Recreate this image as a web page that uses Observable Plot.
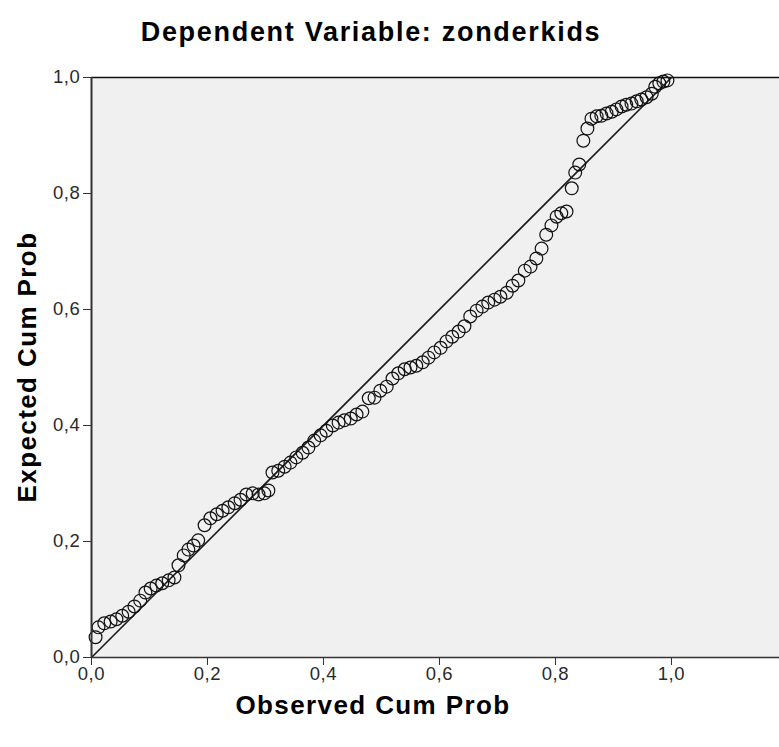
<!DOCTYPE html>
<html>
<head>
<meta charset="utf-8">
<script src="https://cdn.jsdelivr.net/npm/d3@7"></script>
<script src="https://cdn.jsdelivr.net/npm/@observablehq/plot@0.6"></script>
<style>
  html, body { margin: 0; padding: 0; background: #ffffff; }
  #wrap { position: relative; width: 779px; height: 747px; font-family: "Liberation Sans", Arial, sans-serif; }
  #title { position: absolute; left: 0; top: 0; width: 742px; height: 60px; line-height: 64px; text-align: center; font-weight: bold; font-size: 27px; letter-spacing: 1.7px; color: #000; }
  #chart { position: absolute; left: 0; top: 60px; }
  .axlab { position: absolute; font-weight: bold; font-size: 26px; letter-spacing: 1.4px; color: #000; white-space: nowrap; line-height: 30px; }
  #xlab { left: 0; width: 746px; top: 690px; text-align: center; }
  #ylab { left: 27px; top: 367px; transform: translate(-50%, -50%) rotate(-90deg); }
  svg g[aria-label="x-axis tick label"] text, svg g[aria-label="y-axis tick label"] text { letter-spacing: 0.6px; }
</style>
</head>
<body>
<div id="wrap">
  <div id="title"></div>
  <div id="chart"></div>
  <div id="xlab" class="axlab"></div>
  <div id="ylab" class="axlab"></div>
</div>
<script>
const titleText = "Dependent Variable: zonderkids";
const xLabel = "Observed Cum Prob";
const yLabel = "Expected Cum Prob";
const tickValues = [0, 0.2, 0.4, 0.6, 0.8, 1.0];
const refLine = [0, 1];

const observed = [
  0.007, 0.012, 0.022, 0.033, 0.043, 0.053, 0.064, 0.074, 0.084, 0.093,
  0.102, 0.112, 0.122, 0.133, 0.143, 0.150, 0.159, 0.167, 0.176, 0.184,
  0.195, 0.205, 0.216, 0.226, 0.236, 0.247, 0.257, 0.267, 0.278, 0.288,
  0.298, 0.305, 0.312, 0.322, 0.333, 0.343, 0.353, 0.364, 0.374, 0.384,
  0.395, 0.405, 0.416, 0.426, 0.436, 0.447, 0.457, 0.467, 0.478, 0.488,
  0.498, 0.509, 0.519, 0.529, 0.540, 0.550, 0.560, 0.571, 0.581, 0.591,
  0.602, 0.612, 0.622, 0.633, 0.643, 0.653, 0.664, 0.674, 0.684, 0.695,
  0.705, 0.716, 0.726, 0.736, 0.747, 0.757, 0.767, 0.776, 0.784, 0.793,
  0.802, 0.810, 0.819, 0.828, 0.834, 0.841, 0.848, 0.855, 0.862, 0.871,
  0.879, 0.888, 0.897, 0.905, 0.914, 0.922, 0.931, 0.940, 0.948, 0.957,
  0.966, 0.972, 0.979, 0.986, 0.993
];
const expected = [
  0.035, 0.052, 0.059, 0.062, 0.066, 0.072, 0.079, 0.088, 0.098, 0.112,
  0.119, 0.124, 0.128, 0.133, 0.138, 0.159, 0.176, 0.186, 0.193, 0.202,
  0.228, 0.240, 0.247, 0.253, 0.259, 0.266, 0.272, 0.281, 0.283, 0.281,
  0.283, 0.288, 0.319, 0.322, 0.329, 0.336, 0.345, 0.353, 0.362, 0.374,
  0.383, 0.391, 0.400, 0.405, 0.409, 0.412, 0.419, 0.424, 0.447, 0.448,
  0.460, 0.467, 0.481, 0.490, 0.497, 0.500, 0.503, 0.509, 0.517, 0.526,
  0.534, 0.545, 0.553, 0.562, 0.571, 0.588, 0.598, 0.605, 0.612, 0.617,
  0.622, 0.629, 0.641, 0.650, 0.667, 0.674, 0.688, 0.705, 0.729, 0.745,
  0.760, 0.766, 0.769, 0.809, 0.836, 0.850, 0.891, 0.912, 0.929, 0.933,
  0.934, 0.938, 0.941, 0.945, 0.950, 0.953, 0.955, 0.959, 0.962, 0.966,
  0.972, 0.984, 0.990, 0.993, 0.995
];

document.getElementById("title").textContent = titleText;
document.getElementById("xlab").textContent = xLabel;
document.getElementById("ylab").textContent = yLabel;

const points = observed.map((o, i) => ({obs: o, exp: expected[i]}));
const diag = refLine.map(v => ({obs: v, exp: v}));
const fmt = d => d.toFixed(1).replace(".", ",");

const chart = Plot.plot({
  width: 779,
  height: 687,
  marginTop: 17,
  marginBottom: 90,
  marginLeft: 91,
  marginRight: 0,
  style: { fontFamily: "'Liberation Sans', Arial, sans-serif", background: "#ffffff" },
  x: { domain: [0, 688 / 580] },
  y: { domain: [0, 1] },
  marks: [
    Plot.frame({ fill: "#f0f0f0", stroke: "none" }),
    Plot.ruleY([1], { stroke: "#111", strokeWidth: 1.5 }),
    Plot.line(diag, { x: "obs", y: "exp", stroke: "#1a1a1a", strokeWidth: 1.6 }),
    Plot.dot(points, { x: "obs", y: "exp", r: 6.4, stroke: "#111", strokeWidth: 1.2, fill: "none" }),
    Plot.axisX({ ticks: tickValues, tickFormat: fmt, tickSize: 8, tickPadding: 1, fontSize: 18.5, stroke: "#333", fill: "#2a2a2a", label: null }),
    Plot.axisY({ ticks: tickValues, tickFormat: fmt, tickSize: 8, tickPadding: 3, fontSize: 18.5, stroke: "#333", fill: "#2a2a2a", label: null }),
    Plot.ruleX([0], { stroke: "#333", strokeWidth: 2 }),
    Plot.ruleY([0], { stroke: "#333", strokeWidth: 1.5 })
  ]
});
document.getElementById("chart").appendChild(chart);
</script>
</body>
</html>
